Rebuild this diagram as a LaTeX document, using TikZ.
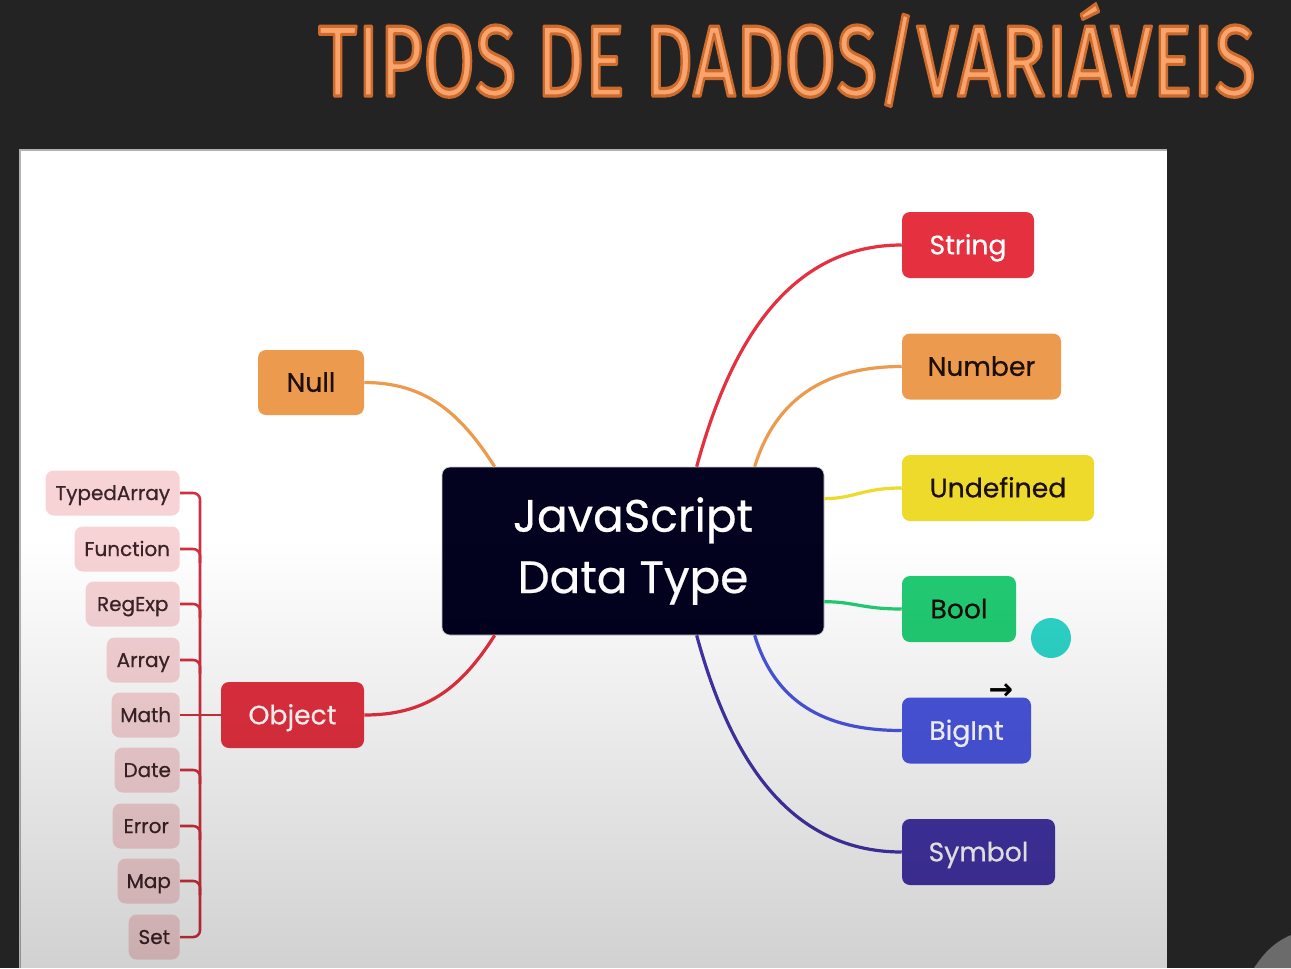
\documentclass[tikz,border=0pt]{standalone}
\usepackage{fontspec}
\setmainfont{Poppins}[FakeBold=0.6]
\newfontfamily\mfont{Poppins}[FakeBold=0.5]
\newfontfamily\titlefont{Fira Sans}
\newfontfamily\symfont{DejaVu Sans}
\usetikzlibrary{calc,fadings}
\definecolor{bgdark}{HTML}{232323}
\definecolor{cred}{HTML}{E4303F}
\definecolor{corange}{HTML}{EC9B4E}
\definecolor{cyellow}{HTML}{EDDA2B}
\definecolor{cgreen}{HTML}{22CC74}
\definecolor{cblue}{HTML}{4A56E0}
\definecolor{cpurple}{HTML}{4334A6}
\definecolor{cnavy}{HTML}{03021F}
\definecolor{darktext}{HTML}{1C0E08}
\definecolor{leaffill}{HTML}{F7D3D6}
\definecolor{leaftext}{HTML}{3B2427}
\definecolor{leafline}{HTML}{D0303F}
\definecolor{titleorange}{HTML}{FAA46C}
\definecolor{ccyan}{HTML}{2DD6C8}
\tikzfading[name=fadedown, top color=transparent!100, bottom color=transparent!0]
\begin{document}
\begin{tikzpicture}[x=0.75pt,y=-0.75pt,
  typebox/.style={rectangle, rounded corners=6pt, inner sep=0pt, minimum height=49.5pt,
    text height=17pt, text depth=3pt, font=\mfont\fontsize{20}{24}\selectfont},
  leafbox/.style={rectangle, rounded corners=6pt, inner sep=0pt, minimum height=33.75pt,
    text height=12.5pt, text depth=2pt,
    fill=leaffill, text=leaftext, anchor=east, font=\fontsize{15}{18}\selectfont},
  conn/.style={line width=2.4pt},
  leafconn/.style={line width=1.9pt, draw=leafline, rounded corners=5pt},
  titletext/.style={anchor=base west, inner sep=0pt}]
\useasboundingbox (0,0) rectangle (1291,968);
\fill[bgdark] (0,0) rectangle (1291,968);
% panel
\fill[white] (20,150) rectangle (1167,968);
\draw[gray!60, line width=1.2pt] (20,968) -- (20,150) -- (1167,150);
% title
\node[titletext, text=titleorange] (title) at (318,96)
  {\resizebox{703pt}{\height}{\titlefont\fontsize{76}{76}\selectfont\special{pdf:literal direct 1 j 2 Tr 2.4 w 0.80 0.42 0.18 RG}TIPOS DE DADOS/VARIÁVEIS\special{pdf:literal direct 0 Tr}}};
% central
\node[rectangle, rounded corners=6pt, fill=cnavy, draw=gray!40, line width=0.5pt,
  minimum width=286.5pt, minimum height=126pt, inner sep=0pt, text=white,
  align=center, font=\mfont\fontsize{34}{46}\selectfont] (c) at (633,551) {JavaScript\\Data Type};
% right nodes
\node[typebox, fill=cred, text=white, minimum width=99pt] (string) at (968,245) {String};
\node[typebox, fill=corange, text=darktext, minimum width=119.25pt] (number) at (981.5,366.5) {Number};
\node[typebox, fill=cyellow, text=darktext, minimum width=144pt] (undef) at (998,488) {Undefined};
\node[typebox, fill=cgreen, text=darktext, minimum width=85.5pt] (bool) at (959,609) {Bool};
\node[typebox, fill=cblue, text=white, minimum width=96.75pt] (bigint) at (966.5,730.5) {BigInt};
\node[typebox, fill=cpurple, text=white, minimum width=114.75pt] (symbol) at (978.5,852) {Symbol};
% left nodes
\node[typebox, fill=corange, text=darktext, minimum width=79.5pt, minimum height=48.75pt] (null) at (311,382.5) {Null};
\node[typebox, fill=cred, text=white, minimum width=107.25pt] (obj) at (292.5,715) {Object};
% leaves
\node[leafbox, minimum width=100.5pt] (ta) at (180,493) {TypedArray};
\node[leafbox, minimum width=78.75pt] (fn) at (180,549) {Function};
\node[leafbox, minimum width=70.5pt] (re) at (180,604) {RegExp};
\node[leafbox, minimum width=54.75pt] (arr) at (180,660) {Array};
\node[leafbox, minimum width=51pt] (math) at (180,715) {Math};
\node[leafbox, minimum width=48.75pt] (date) at (180,770) {Date};
\node[leafbox, minimum width=50.25pt] (err) at (180,826) {Error};
\node[leafbox, minimum width=46.5pt] (map) at (180,881) {Map};
\node[leafbox, minimum width=38.25pt] (set) at (180,937) {Set};
% connection points on central node
\coordinate (cS) at ($(c.north west)+(255,0)$);
\coordinate (cN) at ($(c.north west)+(313,0)$);
\coordinate (cNl) at ($(c.north west)+(53,0)$);
\coordinate (cSy) at ($(c.south west)+(255,0)$);
\coordinate (cBi) at ($(c.south west)+(313,0)$);
\coordinate (cO) at ($(c.south west)+(53,0)$);
\coordinate (cU) at ($(c.north east)+(0,32)$);
\coordinate (cBo) at ($(c.north east)+(0,135)$);
% connectors
\draw[conn, cred] (cS) .. controls +(30,-110) and +(-120,0) .. (string.west);
\draw[conn, corange] (cN) .. controls +(20,-65) and +(-80,0) .. (number.west);
\draw[conn, cyellow] (cU) .. controls +(30,0) and +(-40,0) .. (undef.west);
\draw[conn, cgreen] (cBo) .. controls +(30,0) and +(-40,0) .. (bool.west);
\draw[conn, cblue] (cBi) .. controls +(20,65) and +(-80,0) .. (bigint.west);
\draw[conn, cpurple] (cSy) .. controls +(30,110) and +(-120,0) .. (symbol.west);
\draw[conn, corange] (null.east) .. controls +(60,0) and +(-35,-55) .. (cNl);
\draw[conn, cred] (obj.east) .. controls +(60,0) and +(-35,55) .. (cO);
% bracket
\draw[leafconn] (ta.east) -- ++(20,0) -- ($(set.east)+(20,0)$) -- (set.east);
\foreach \n in {fn,re,arr,date,err,map}{
  \draw[leafconn] (\n.east) -- ++(20,0) -- ++(0,14);
}
\draw[leafconn, rounded corners=0pt] (math.east) -- (obj.west);
% cyan dot and cursor
\fill[ccyan] (1051,638) circle[radius=15pt];
\node[inner sep=0pt, font=\symfont\bfseries\fontsize{22}{22}\selectfont] (cursor) at (1001,692) {→};
% bottom shading overlay
\fill[black, fill opacity=0.18, path fading=fadedown] (20,540) rectangle (1167,968);
% corner figure
\fill[gray!55!black!80] (1254,968) .. controls (1262,956) and (1272,943) .. (1291,935) -- (1291,968) -- cycle;
\end{tikzpicture}
\end{document}
